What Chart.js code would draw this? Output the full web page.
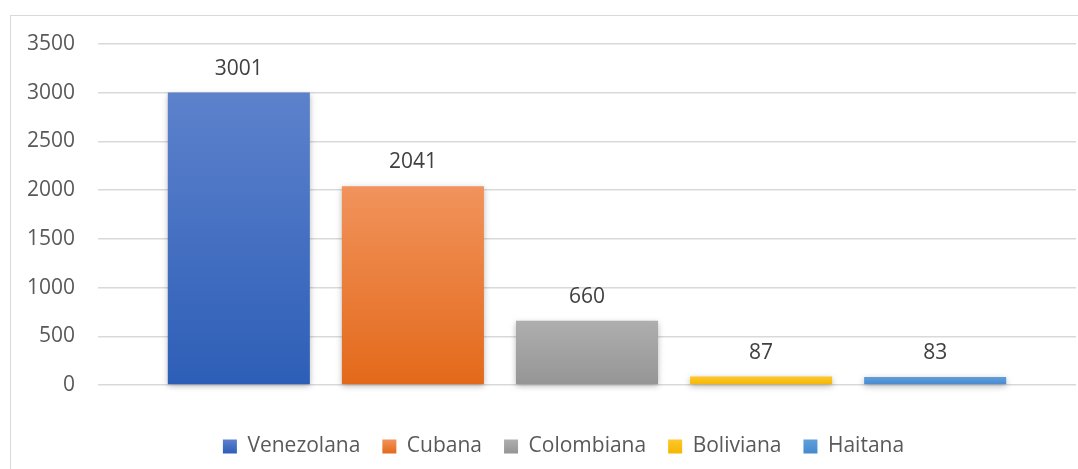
<!DOCTYPE html>
<html>
<head>
<meta charset="utf-8">
<script src="https://cdn.jsdelivr.net/npm/chart.js@4.4.1/dist/chart.umd.min.js"></script>
<style>
  html, body { margin: 0; padding: 0; background: #ffffff; overflow: hidden; }
  body { width: 1078px; height: 469px; position: relative; }
  /* chart frame, only top and left edge are visible in the crop */
  #frame {
    position: absolute; left: 9.5px; top: 14.5px; width: 1069px; height: 456px;
    border-left: 1.5px solid #d9d9d9; border-top: 1.5px solid #d9d9d9;
  }
  #wrap { position: absolute; left: 0; top: 0; width: 1067px; height: 453px; }
</style>
</head>
<body>
<div id="frame">
  <div id="wrap"><canvas id="nationalityChart"></canvas></div>
</div>
<script>
// one empty category, every nationality is its own series
const categories = [''];
const seriesNames = ['Venezolana', 'Cubana', 'Colombiana', 'Boliviana', 'Haitana'];
const seriesValues = [3001, 2041, 660, 87, 83];
const yTickMin = 0;
const yTickMax = 3500;
const yTickStep = 500;

// gradient colours (top, bottom) per series
const topColors = ['#5d82cc', '#f1935c', '#aeaeae', '#ffc72c', '#5f9fdb'];
const bottomColors = ['#2d5eb7', '#e3691a', '#959595', '#f3b700', '#4789cf'];
const flatColors = ['#4472c4', '#ed7d31', '#a5a5a5', '#ffc000', '#5b9bd5'];

const FONT = '"Open Sans", "Noto Sans", sans-serif';
const FONT_SIZE = 21;
const LEGEND_BOX = 14;
const LEGEND_PAD = 22;

// gradient spanning each bar, from its value down to zero
function barGradient(i) {
    return (context) => {
        const chart = context.chart;
        if (!chart.chartArea || context.raw === undefined) return flatColors[i];
        const y = chart.scales.y;
        const g = chart.ctx.createLinearGradient(0, y.getPixelForValue(context.raw), 0, y.getPixelForValue(0));
        g.addColorStop(0, topColors[i]);
        g.addColorStop(1, bottomColors[i]);
        return g;
    };
}

const datasets = seriesNames.map((name, i) => ({
    label: name,
    data: [seriesValues[i]],
    backgroundColor: barGradient(i),
    borderWidth: 0,
    clip: false
}));

// soft shadow under the bars
const barShadow = {
    id: 'barShadow',
    beforeDatasetDraw(chart) {
        const c = chart.ctx;
        c.save();
        c.shadowColor = 'rgba(0,0,0,0.28)';
        c.shadowBlur = 6;
        c.shadowOffsetY = 2;
    },
    afterDatasetDraw(chart) {
        chart.ctx.restore();
    }
};

// value written above each bar
const valueLabels = {
    id: 'valueLabels',
    afterDatasetsDraw(chart) {
        const c = chart.ctx;
        c.save();
        c.font = FONT_SIZE + 'px ' + FONT;
        c.fillStyle = '#404040';
        c.textAlign = 'center';
        c.textBaseline = 'middle';
        chart.data.datasets.forEach((ds, i) => {
            chart.getDatasetMeta(i).data.forEach((bar, j) => {
                c.fillText(String(ds.data[j]), bar.x, bar.y - 24);
            });
        });
        c.restore();
    }
};

// legend sits a little right of centre, and its boxes get the same gradient
const legendTweaks = {
    id: 'legendTweaks',
    afterLayout(chart) {
        chart.legend.left += 20;
        chart.legend.right += 20;
    },
    beforeDraw(chart) {
        const legend = chart.legend;
        const boxTop = legend.top + LEGEND_PAD + (FONT_SIZE - LEGEND_BOX) / 2;
        (legend.legendItems || []).forEach((item) => {
            const i = item.datasetIndex;
            const g = chart.ctx.createLinearGradient(0, boxTop, 0, boxTop + LEGEND_BOX);
            g.addColorStop(0, topColors[i]);
            g.addColorStop(1, bottomColors[i]);
            item.fillStyle = g;
        });
    }
};

new Chart(document.getElementById('nationalityChart'), {
    type: 'bar',
    data: { labels: categories, datasets },
    plugins: [barShadow, valueLabels, legendTweaks],
    options: {
        responsive: true,
        maintainAspectRatio: false,
        animation: false,
        categoryPercentage: 0.89,
        barPercentage: 0.816,
        layout: { padding: { top: 28, right: 2, bottom: 2, left: 0 } },
        plugins: {
            tooltip: { enabled: false },
            legend: {
                position: 'bottom',
                labels: {
                    boxWidth: LEGEND_BOX,
                    boxHeight: LEGEND_BOX,
                    padding: LEGEND_PAD,
                    color: '#595959',
                    font: { family: FONT, size: FONT_SIZE }
                }
            }
        },
        scales: {
            x: {
                ticks: { display: false },
                grid: { display: false },
                border: { display: false },
                afterFit(scale) { scale.height = 29; }
            },
            y: {
                min: yTickMin,
                max: yTickMax,
                ticks: {
                    stepSize: yTickStep,
                    padding: 3,
                    color: '#595959',
                    font: { family: FONT, size: FONT_SIZE },
                    callback: (value) => String(value)
                },
                grid: { color: '#d9d9d9', lineWidth: 1.5, drawTicks: true, tickLength: 20, tickColor: 'rgba(0,0,0,0)' },
                border: { display: false },
                afterFit(scale) { scale.width = 87; }
            }
        }
    }
});
</script>
</body>
</html>
